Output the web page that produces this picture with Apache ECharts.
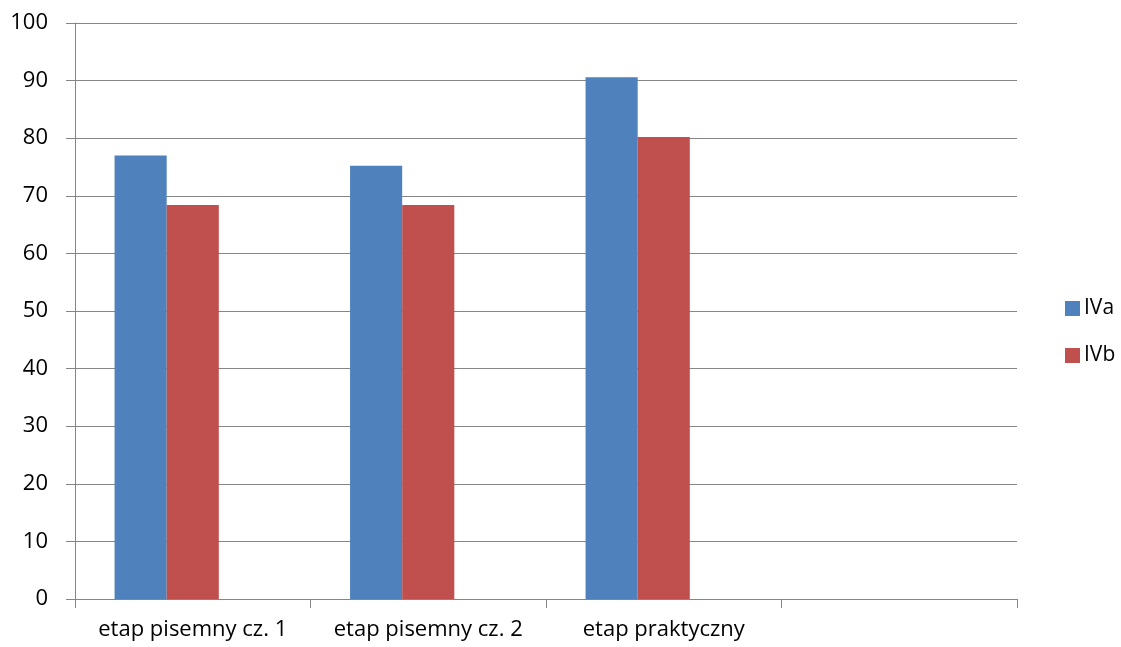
<!DOCTYPE html>
<html><head><meta charset="utf-8">
<script src="https://cdn.jsdelivr.net/npm/echarts@6/dist/echarts.min.js"></script>
<style>html,body{margin:0;padding:0;background:#fff}#c{width:1121px;height:647px}</style>
</head><body><div id="c"></div>
<script>
const categories = ['etap pisemny cz. 1', 'etap pisemny cz. 2', 'etap praktyczny', ''];
const seriesNames = ['IVa', 'IVb'];
const valuesIVa = [77.0, 75.2, 90.6, null];
const valuesIVb = [68.4, 68.4, 80.2, null];
const valuesEmpty = [null, null, null, null];
const yTicks = [0, 10, 20, 30, 40, 50, 60, 70, 80, 90, 100];

const font = '"Open Sans", "Noto Sans", sans-serif';
const chart = echarts.init(document.getElementById('c'));
chart.setOption({
  animation: false,
  grid: { left: 75, right: 104, top: 23, bottom: 48, containLabel: false },
  legend: {
    data: seriesNames,
    orient: 'vertical',
    left: 1060, top: 293,
    itemWidth: 15, itemHeight: 15, itemGap: 26,
    icon: 'rect',
    textStyle: { fontFamily: font, fontSize: 21, color: '#000', padding: [0, 0, 0, -1] }
  },
  xAxis: {
    type: 'category',
    data: categories,
    axisLine: { lineStyle: { color: '#868686', width: 1 } },
    axisTick: { show: true, interval: 0, length: 9, lineStyle: { color: '#868686' } },
    axisLabel: { interval: 0, hideOverlap: false, fontFamily: font, fontSize: 22, color: '#000', margin: 20 }
  },
  yAxis: {
    type: 'value', min: yTicks[0], max: yTicks[yTicks.length - 1], interval: 10,
    axisLine: { show: true, lineStyle: { color: '#868686', width: 1 } },
    axisTick: { show: true, length: 9, lineStyle: { color: '#868686' } },
    axisLabel: { fontFamily: font, fontSize: 22, color: '#000', margin: 27 },
    splitLine: { lineStyle: { color: '#868686', width: 1 } }
  },
  series: [
    { name: 'IVa', type: 'bar', data: valuesIVa, barGap: '0%', barCategoryGap: '33.6%', itemStyle: { color: '#4F81BD' } },
    { name: 'IVb', type: 'bar', data: valuesIVb, barGap: '0%', barCategoryGap: '33.6%', itemStyle: { color: '#C0504D' } },
    { name: 'empty', type: 'bar', data: valuesEmpty, barGap: '0%', barCategoryGap: '33.6%', itemStyle: { color: '#9BBB59' } }
  ]
});
</script></body></html>
